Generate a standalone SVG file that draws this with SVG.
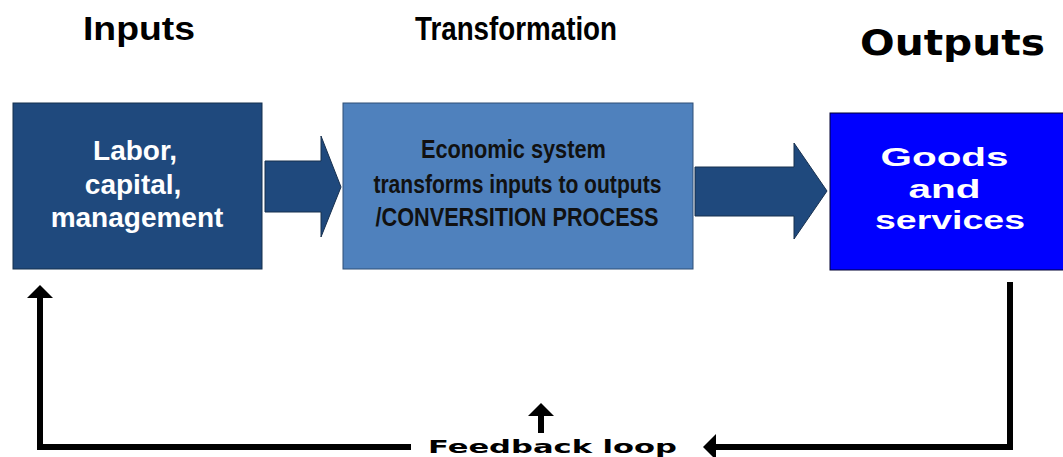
<svg xmlns="http://www.w3.org/2000/svg" width="1063" height="457" viewBox="0 0 1063 457">
  <style>
    .title { font-family: "Liberation Sans", Arial, sans-serif; font-weight: bold; fill: #000; }
    .wide { font-family: "DejaVu Sans", Verdana, sans-serif; font-weight: bold; }
    .boxtext { font-family: "Liberation Sans", Arial, sans-serif; font-weight: bold; text-anchor: middle; }
    .flow { fill: #1f497d; stroke: #17304f; stroke-width: 1; }
    .loop { fill: none; stroke: #000; stroke-width: 6; stroke-linejoin: miter; }
  </style>
  <defs>
    <!-- arrowhead: base sits on the line end, 13 long and 26 wide -->
    <marker id="head" viewBox="0 0 13 26" refX="0" refY="13" markerWidth="13" markerHeight="26" markerUnits="userSpaceOnUse" orient="auto">
      <path d="M0,0 L13,13 L0,26 z" fill="#000"/>
    </marker>
  </defs>
  <rect width="1063" height="457" fill="#fff"/>

  <!-- column headings -->
  <text class="title" x="83" y="40" font-size="34" textLength="112" lengthAdjust="spacingAndGlyphs">Inputs</text>
  <text class="title" x="415" y="40" font-size="33" textLength="202" lengthAdjust="spacingAndGlyphs">Transformation</text>
  <text class="title wide" x="860" y="55" font-size="36" textLength="185" lengthAdjust="spacingAndGlyphs">Outputs</text>

  <g id="inputs">
    <rect x="13" y="103" width="249" height="166" fill="#1f497d" stroke="#14304f" stroke-width="1"/>
    <text class="boxtext" fill="#fff" font-size="28">
      <tspan x="139" y="160">Labor,</tspan>
      <tspan x="137" y="194">capital,</tspan>
      <tspan x="137" y="227">management</tspan>
    </text>
  </g>

  <g id="transformation">
    <rect x="343" y="103" width="350" height="166" fill="#4f81bd" stroke="#2f4f76" stroke-width="1"/>
    <text class="boxtext" fill="#111" font-size="26">
      <tspan x="517" y="158" textLength="185" lengthAdjust="spacingAndGlyphs">Economic system</tspan>
      <tspan x="521" y="193" textLength="288" lengthAdjust="spacingAndGlyphs">transforms inputs to outputs</tspan>
      <tspan x="517" y="226" textLength="283" lengthAdjust="spacingAndGlyphs">/CONVERSITION PROCESS</tspan>
    </text>
  </g>

  <g id="outputs">
    <rect x="830" y="113" width="240" height="157" fill="#0000ff" stroke="#000033" stroke-width="1"/>
    <text class="boxtext wide" fill="#fff" font-size="25">
      <tspan x="948" y="166" textLength="128" lengthAdjust="spacingAndGlyphs">Goods</tspan>
      <tspan x="948" y="198" textLength="72" lengthAdjust="spacingAndGlyphs">and</tspan>
      <tspan x="950" y="229" textLength="150" lengthAdjust="spacingAndGlyphs">services</tspan>
    </text>
  </g>

  <g id="connectors">
    <!-- block arrows between stages -->
    <path class="flow" d="M265,161 L321,161 L321,136 L341,187 L321,237 L321,212 L265,212 z"/>
    <path class="flow" d="M695,167 L794,167 L794,143 L827,191 L794,239 L794,216 L695,216 z"/>

    <!-- feedback loop -->
    <path class="loop" d="M1010,282 L1010,447 L716,447" marker-end="url(#head)"/>
    <path class="loop" d="M411,447 L40,447 L40,298" marker-end="url(#head)"/>
    <path class="loop" d="M541,433 L541,416" marker-end="url(#head)"/>
    <text class="wide" x="428" y="453" font-size="17" fill="#000" textLength="249" lengthAdjust="spacingAndGlyphs">Feedback loop</text>
  </g>
</svg>
